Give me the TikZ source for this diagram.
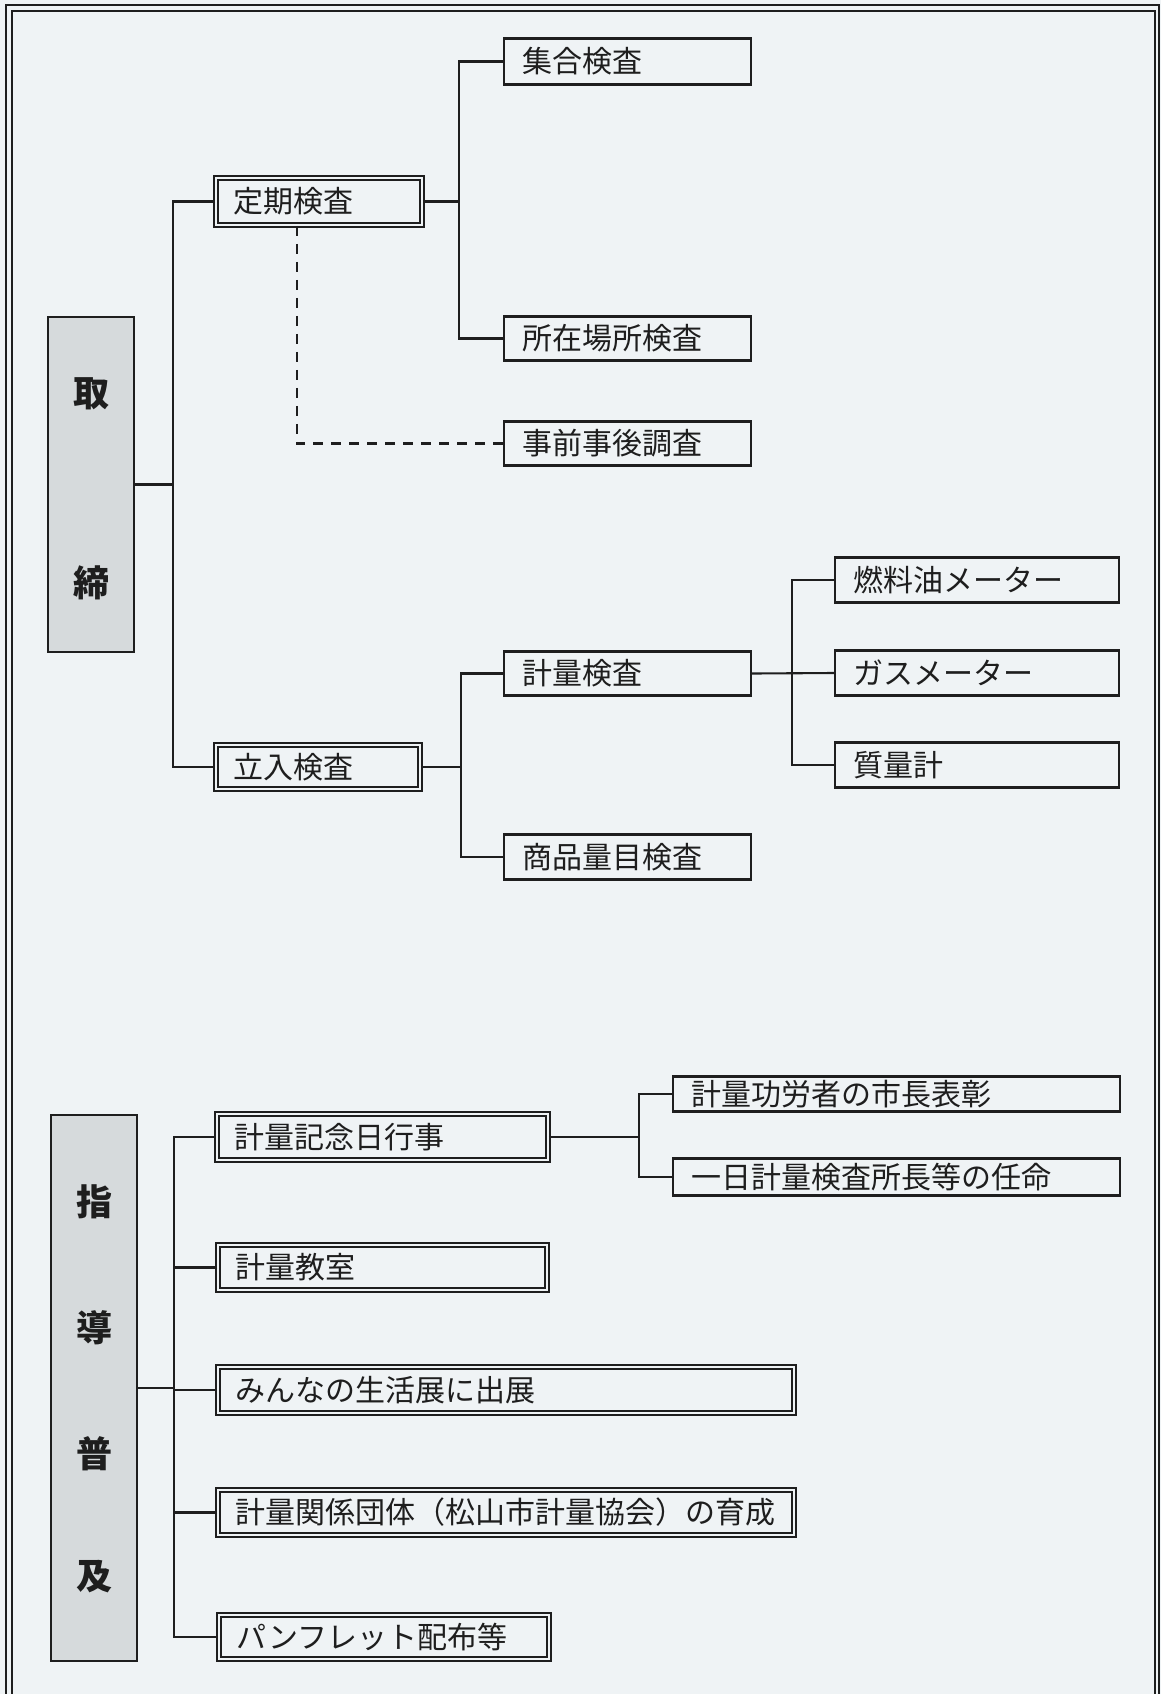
\documentclass[tikz,border=0pt]{standalone}
\usepackage{fontspec}
\setmainfont{Noto Sans CJK JP}
\definecolor{bgc}{RGB}{239,243,245}
\definecolor{grayf}{RGB}{214,218,220}
\definecolor{ink}{RGB}{30,30,30}
\begin{document}
\begin{tikzpicture}[x=1pt,y=-1pt,
  every node/.style={font=\fontsize{30}{36}\selectfont, text=ink},
  sbox/.style={draw=ink, line width=2.2pt, anchor=west, inner xsep=18pt, inner ysep=0pt, align=left},
  dbox/.style={draw=ink, line width=1.8pt, double=bgc, double distance=2.5pt, anchor=west, inner xsep=18pt, inner ysep=0pt, align=left},
  gbox/.style={draw=ink, line width=2.2pt, fill=grayf},
  glab/.style={font=\fontsize{36}{40}\selectfont\bfseries, inner sep=0pt},
  conn/.style={draw=ink, line width=2.1pt},
  dconn/.style={draw=ink, line width=2.3pt, dash pattern=on 10pt off 8pt}]
\useasboundingbox (0,0) rectangle (1161,1694);
\fill[bgc] (0,0) rectangle (1161,1694);
% frame
\draw[ink, line width=2pt] (6,1720) -- (6,5) -- (1159,5) -- (1159,1720);
\draw[ink, line width=1.8pt] (12,1720) -- (12,11) -- (1155,11) -- (1155,1720);

% ---------- top section ----------
\node[gbox, minimum width=86pt, minimum height=335pt] (gA) at (91,484.5) {};
\node[glab] (gA1) at (91,394) {取};
\node[glab] (gA2) at (91,583) {締};

\node[dbox, text width=170pt, minimum height=47pt] (d1) at (215,201.5) {定期検査};
\node[dbox, text width=168pt, minimum height=44pt] (d2) at (215,767) {立入検査};

\node[sbox, text width=211pt, minimum height=46pt] (n1) at (503,61.5) {集合検査};
\node[sbox, text width=211pt, minimum height=44pt] (n2) at (503,338.5) {所在場所検査};
\node[sbox, text width=211pt, minimum height=44pt] (n3) at (503,443.5) {事前事後調査};
\node[sbox, text width=211pt, minimum height=44pt] (n4) at (503,673.5) {計量検査};
\node[sbox, text width=211pt, minimum height=45pt] (n5) at (503,857) {商品量目検査};
\node[sbox, text width=248pt, minimum height=45pt] (n6) at (834,580) {燃料油メーター};
\node[sbox, text width=248pt, minimum height=45pt] (n7) at (834,673) {ガスメーター};
\node[sbox, text width=248pt, minimum height=45pt] (n8) at (834,765) {質量計};

\coordinate (sp1) at (173,0);
\coordinate (sp2) at (459,0);
\coordinate (sp3) at (461,0);
\coordinate (sp4) at (792,0);

\draw[conn] (d1.west) -- (d1.west -| sp1) -- (d2.west -| sp1) -- (d2.west);
\draw[conn] (gA.east) -- (gA.east -| sp1);
\draw[conn] (n1.west) -- (n1.west -| sp2) -- (n2.west -| sp2) -- (n2.west);
\draw[conn] (d1.east) -- (d1.east -| sp2);
\draw[dconn] ([xshift=-22pt]d1.south) |- (n3.west);
\draw[conn] (n4.west) -- (n4.west -| sp3) -- (n5.west -| sp3) -- (n5.west);
\draw[conn] (d2.east) -- (d2.east -| sp3);
\draw[conn] (n6.west) -- (n6.west -| sp4) -- (n8.west -| sp4) -- (n8.west);
\draw[conn] (n4.east) -- (n7.west);

% ---------- bottom section ----------
\node[gbox, minimum width=86pt, minimum height=546pt] (gB) at (94,1388) {};
\node[glab] (gB1) at (94,1202) {指};
\node[glab] (gB2) at (94,1328) {導};
\node[glab] (gB3) at (94,1454) {普};
\node[glab] (gB4) at (94,1577) {及};

\node[dbox, text width=295pt, minimum height=46pt] (e1) at (216,1137) {計量記念日行事};
\node[dbox, text width=293pt, minimum height=45pt] (e2) at (217,1267.5) {計量教室};
\node[dbox, text width=540pt, minimum height=46pt] (e3) at (217,1390) {みんなの生活展に出展};
\node[dbox, text width=540pt, minimum height=45pt] (e4) at (217,1512.5) {計量関係団体（松山市計量協会）の育成};
\node[dbox, text width=294pt, minimum height=44pt] (e5) at (218,1637) {パンフレット配布等};

\node[sbox, text width=411pt, minimum height=35pt] (m1) at (672,1094) {計量功労者の市長表彰};
\node[sbox, text width=411pt, minimum height=37pt] (m2) at (672,1177) {一日計量検査所長等の任命};

\coordinate (sp5) at (174,0);
\coordinate (sp6) at (639,0);

\draw[conn] (e1.west) -- (e1.west -| sp5) -- (e5.west -| sp5) -- (e5.west);
\draw[conn] (e2.west) -- (e2.west -| sp5);
\draw[conn] (e3.west) -- (e3.west -| sp5);
\draw[conn] (e4.west) -- (e4.west -| sp5);
\draw[conn] (gB.east) -- (gB.east -| sp5);
\draw[conn] (m1.west) -- (m1.west -| sp6) -- (m2.west -| sp6) -- (m2.west);
\draw[conn] (e1.east) -- (e1.east -| sp6);
\end{tikzpicture}
\end{document}
